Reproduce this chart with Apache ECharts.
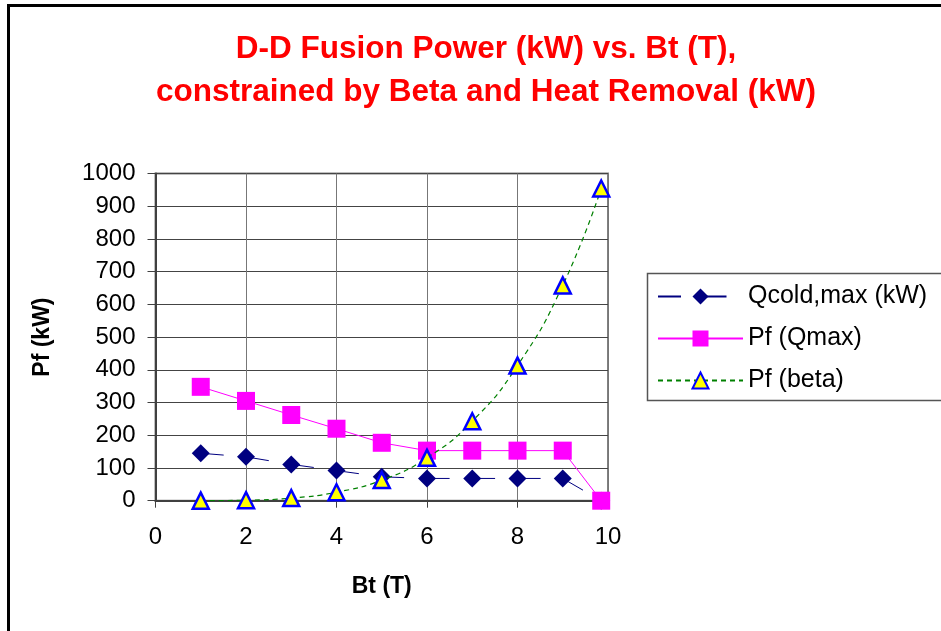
<!DOCTYPE html>
<html>
<head>
<meta charset="utf-8">
<script src="https://cdn.jsdelivr.net/npm/echarts@6/dist/echarts.min.js"></script>
<style>
html,body{margin:0;padding:0;background:#fff;}
#chart{width:941px;height:631px;}
</style>
</head>
<body>
<div id="chart"></div>
<script>
// Data
var bt = [1, 2, 3, 4, 5, 6, 7, 8, 9, 9.85];
var qcoldMax = [145, 134, 111, 92, 73, 68, 68, 68, 68, 0];
var pfQmax = [348, 305, 262, 220, 177, 153, 153, 153, 153, 0];
var pfBeta = [0.1, 1.6, 8, 26, 63, 131, 243, 413, 658, 954];
var seriesNames = ['Qcold,max (kW)', 'Pf (Qmax)', 'Pf (beta)'];
var titleLines = ['D-D Fusion Power (kW) vs. Bt (T),', 'constrained by Beta and Heat Removal (kW)'];

function pairs(xs, ys) { return xs.map(function (x, i) { return [x, ys[i]]; }); }

var FONT = '"Liberation Sans", Arial, sans-serif';
var chart = echarts.init(document.getElementById('chart'), null, { renderer: 'canvas' });
chart.setOption({
  animation: false,
  backgroundColor: '#ffffff',
  title: {
    text: titleLines.join('\n'),
    left: 481,
    textAlign: 'center',
    top: 23,
    textStyle: { color: '#ff0000', fontSize: 31.5, fontWeight: 'bold', fontFamily: FONT, lineHeight: 43 }
  },
  graphic: [
    { type: 'rect', shape: { x: 8.5, y: 5.5, width: 1000, height: 1000 }, style: { fill: null, stroke: '#000', lineWidth: 3 }, silent: true, z: 100 },
    { type: 'rect', shape: { x: 647.5, y: 273.5, width: 400, height: 127 }, style: { fill: null, stroke: '#555', lineWidth: 1.5 }, silent: true, z: 100 }
  ],
  legend: {
    orient: 'vertical',
    left: 657,
    top: 284,
    padding: 0,
    itemWidth: 85,
    itemHeight: 20,
    itemGap: 17,
    textStyle: { fontSize: 25, color: '#000', fontFamily: FONT },
    data: seriesNames
  },
  grid: {
    left: 155.5, top: 173.5, width: 452.5, height: 327.2,
    show: true, borderColor: '#808080', borderWidth: 2, backgroundColor: 'transparent'
  },
  xAxis: {
    type: 'value', min: 0, max: 10, interval: 2,
    name: 'Bt (T)', nameLocation: 'middle', nameGap: 86,
    nameTextStyle: { fontSize: 23, fontWeight: 'bold', color: '#000', fontFamily: FONT, verticalAlign: 'middle' },
    axisLine: { show: true, lineStyle: { color: '#404040', width: 2 } },
    axisTick: { show: true, length: 7, lineStyle: { color: '#404040', width: 1 } },
    axisLabel: { fontSize: 24, color: '#000', fontFamily: FONT, margin: 25 },
    splitLine: { show: true, lineStyle: { color: '#777', width: 1 } }
  },
  yAxis: {
    type: 'value', min: 0, max: 1000, interval: 100,
    name: 'Pf (kW)', nameLocation: 'middle', nameGap: 113,
    nameTextStyle: { fontSize: 23, fontWeight: 'bold', color: '#000', fontFamily: FONT, verticalAlign: 'middle' },
    axisLine: { show: true, lineStyle: { color: '#404040', width: 2 } },
    axisTick: { show: true, length: 8, lineStyle: { color: '#404040', width: 1 } },
    axisLabel: { fontSize: 24, color: '#000', fontFamily: FONT, margin: 20, formatter: function (v) { return String(v); } },
    splitLine: { show: true, lineStyle: { color: '#444', width: 1 } }
  },
  series: [
    {
      name: seriesNames[0], type: 'line', data: pairs(bt, qcoldMax),
      symbol: 'diamond', symbolSize: 18,
      itemStyle: { color: '#000080' },
      lineStyle: { color: '#000080', width: 1, type: [23, 22.5] },
      z: 2
    },
    {
      name: seriesNames[1], type: 'line', data: pairs(bt, pfQmax),
      symbol: 'rect', symbolSize: 18,
      itemStyle: { color: '#ff00ff' },
      lineStyle: { color: '#ff00ff', width: 1, type: 'solid' },
      z: 3
    },
    {
      name: seriesNames[2], type: 'line', data: pairs(bt, pfBeta),
      symbol: 'triangle', symbolSize: 16, smooth: 0.5,
      itemStyle: { color: '#ffff00', borderColor: '#0000ff', borderWidth: 2.5 },
      lineStyle: { color: '#008000', width: 1.2, type: [5, 4] },
      z: 4
    }
  ]
});
</script>
</body>
</html>
